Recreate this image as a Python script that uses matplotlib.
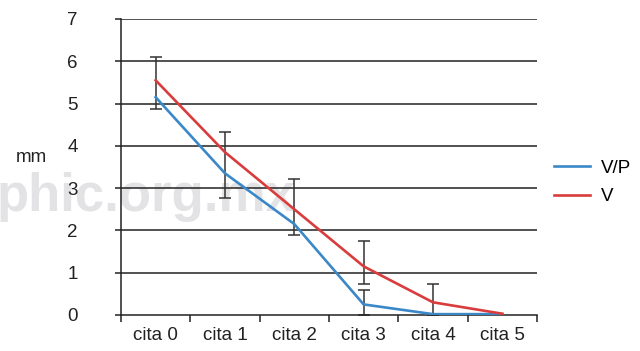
import matplotlib.pyplot as plt
from matplotlib.ticker import FixedLocator

# Data
categories = ["cita 0", "cita 1", "cita 2", "cita 3", "cita 4", "cita 5"]
vp_values = [5.15, 3.35, 2.15, 0.25, 0.02, 0.02]
v_values = [5.55, 3.85, 2.5, 1.15, 0.3, 0.03]

# Error bar ranges (category index, low, high)
err_idx = [0, 1, 2, 3, 3, 4]
err_low = [4.87, 2.77, 1.88, 0.73, 0.0, 0.0]
err_high = [6.1, 4.33, 3.22, 1.75, 0.59, 0.73]

plt.rcParams['font.family'] = ['Liberation Sans', 'DejaVu Sans']

fig = plt.figure(figsize=(6.4, 3.51), dpi=100)
ax = fig.add_axes([0.189, 0.1026, 0.65, 0.8434])

x = list(range(len(categories)))

# watermark behind everything
ax.text(-0.005, 0.44, "phic.org.mx", transform=fig.transFigure,
        fontsize=38, fontweight="bold", color="#e3e3e5",
        ha="left", va="center", zorder=0.1, clip_on=False)

# horizontal grid lines
for yv in range(1, 8):
    ax.axhline(yv, color="#222222", lw=1.1, zorder=1)

# error bars
mid = [(lo + hi) / 2 for lo, hi in zip(err_low, err_high)]
half = [(hi - lo) / 2 for lo, hi in zip(err_low, err_high)]
ax.errorbar(err_idx, mid, yerr=half, fmt="none", ecolor="#333333",
            elinewidth=1.1, capsize=4.5, capthick=1.1, zorder=2)

ax.plot(x, vp_values, color="#3b88c9", lw=1.9, label="V/P", zorder=3)
ax.plot(x, v_values, color="#d93c3c", lw=1.9, label="V", zorder=3)

ax.set_xlim(-0.5, 5.5)
ax.set_ylim(0, 7)

for side in ["top", "right"]:
    ax.spines[side].set_visible(False)
ax.spines["left"].set_color("#222222")
ax.spines["bottom"].set_color("#222222")
ax.spines["left"].set_linewidth(1.1)
ax.spines["bottom"].set_linewidth(1.1)

ax.set_yticks(range(0, 8))
ax.tick_params(axis="y", length=4, width=1.1, color="#222222",
               pad=27, labelsize=13.5, labelcolor="#222222")

ax.xaxis.set_major_locator(FixedLocator([i - 0.5 for i in range(len(categories) + 1)]))
ax.xaxis.set_minor_locator(FixedLocator(x))
ax.set_xticklabels([], minor=False)
ax.set_xticklabels(categories, minor=True)
ax.tick_params(axis="x", which="major", length=5, width=1.1, color="#222222")
ax.tick_params(axis="x", which="minor", length=0, pad=9, labelsize=13.5,
               labelcolor="#222222")

fig.text(31 / 640, 1 - 158 / 351, "mm", fontsize=13.5, color="#222222",
         ha="center", va="center")

ax.legend(loc="center left", bbox_to_anchor=(0.84, 0.48),
          bbox_transform=fig.transFigure, frameon=False, fontsize=13.5,
          handlelength=1.9, handletextpad=0.6, labelspacing=0.6)

fig.savefig("out.png", dpi=100)
